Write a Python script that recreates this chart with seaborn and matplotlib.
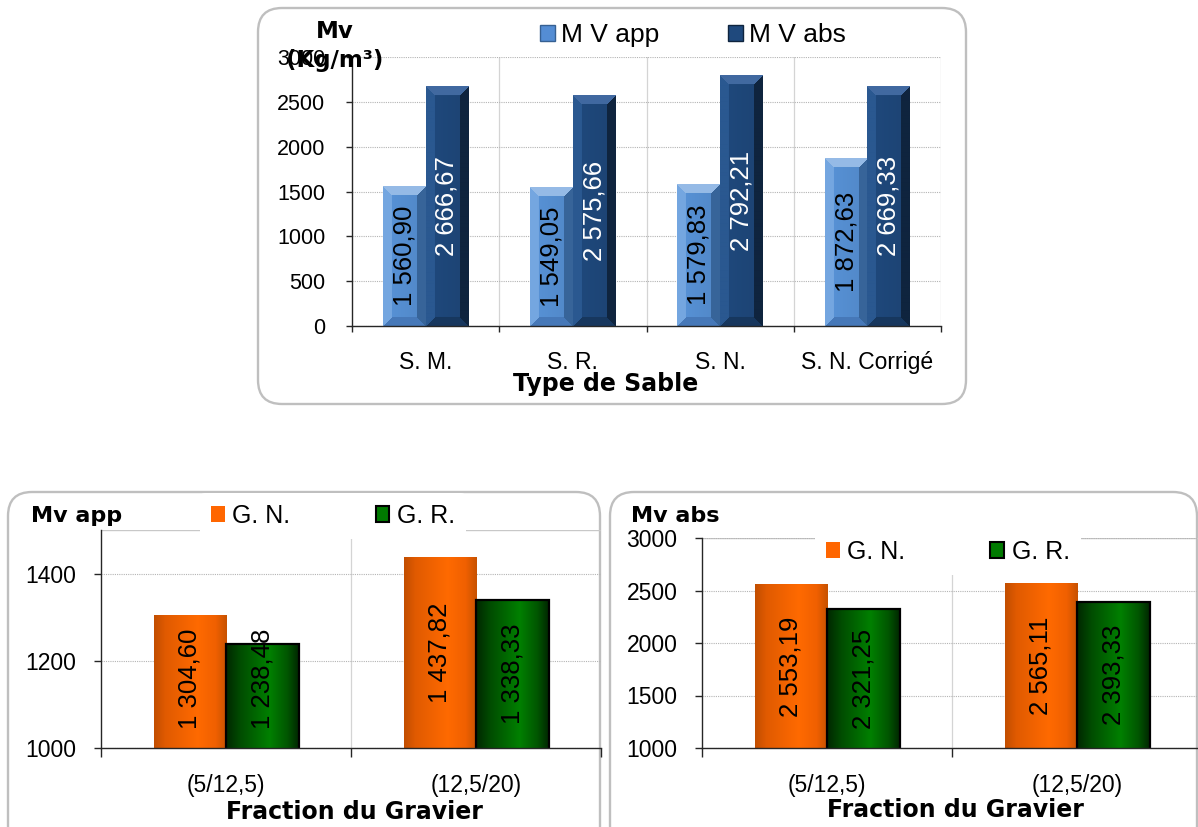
import numpy as np
import pandas as pd
import matplotlib
matplotlib.use("Agg")
import matplotlib.pyplot as plt
import seaborn as sns
from matplotlib.patches import FancyBboxPatch, Patch
from matplotlib.transforms import IdentityTransform
from matplotlib.colors import to_rgb

# ---- Sand: unit mass (kg/m3) ----
sable_types = ["S. M.", "S. R.", "S. N.", "S. N. Corrigé"]
sable_series = ["M V app", "M V abs"]
mv_app_sable = [1560.90, 1549.05, 1579.83, 1872.63]
mv_abs_sable = [2666.67, 2575.66, 2792.21, 2669.33]

# ---- Gravel: unit mass per fraction ----
fractions = ["(5/12,5)", "(12,5/20)"]
gravier_series = ["G. N.", "G. R."]
mv_app_gn = [1304.60, 1437.82]
mv_app_gr = [1238.48, 1338.33]
mv_abs_gn = [2553.19, 2565.11]
mv_abs_gr = [2321.25, 2393.33]

W, H = 1198, 827
sns.set_theme(style="white")
plt.rcParams["font.family"] = ["Liberation Sans", "DejaVu Sans"]
plt.rcParams["text.color"] = "black"
plt.rcParams["axes.labelcolor"] = "black"
plt.rcParams["xtick.color"] = "black"
plt.rcParams["ytick.color"] = "black"
BOLD = dict(family="DejaVu Sans", fontweight="bold", color="black")

fig = plt.figure(figsize=(W / 100, H / 100), dpi=100)
fig.patch.set_facecolor("white")
value_labels = []


def rect(left, top, right, bottom):
    return [left / W, 1 - bottom / H, (right - left) / W, (bottom - top) / H]


def fpos(x, y):
    return x / W, 1 - y / H


def panel(x0, y0, x1, y1):
    box = FancyBboxPatch((x0, H - y1), x1 - x0, y1 - y0,
                         boxstyle="round,pad=0,rounding_size=24",
                         transform=IdentityTransform(), fill=False,
                         ec="#bfbfbf", lw=1.7, zorder=0)
    fig.add_artist(box)


def fr_fmt(v):
    return f"{v:,.2f}".replace(",", " ").replace(".", ",")


def gradient_bar(ax, bar, stops, colors, edge=None):
    x0, w = bar.get_x(), bar.get_width()
    y0, h = bar.get_y(), bar.get_height()
    t = np.linspace(0, 1, 80)
    rgb = np.array([to_rgb(c) for c in colors])
    img = np.stack([np.interp(t, stops, rgb[:, k]) for k in range(3)], axis=-1)[None]
    ax.imshow(img, extent=(x0, x0 + w, y0, y0 + h), aspect="auto",
              interpolation="bilinear", zorder=1.6)
    bar.set_facecolor("none")
    bar.set_zorder(1.7)
    if edge:
        bar.set_edgecolor(edge)
        bar.set_linewidth(1.6)
    else:
        bar.set_edgecolor("none")


def bevel_bar(ax, bar, base, top, left, right, bottom):
    x0, w = bar.get_x(), bar.get_width()
    y0, h = bar.get_y(), bar.get_height()
    (px0, py0), (px1, py1) = ax.transData.transform([[x0, y0], [x0 + w, y0 + h]])
    wp = max(int(round(abs(px1 - px0))), 2)
    hp = max(int(round(abs(py1 - py0))), 2)
    b = 0.2 * wp
    c = np.broadcast_to(np.arange(wp)[None, :] + 0.5, (hp, wp))
    r = np.broadcast_to(np.arange(hp)[:, None] + 0.5, (hp, wp))
    dist = np.stack([r, c, wp - c, hp - r])
    face = np.argmin(dist, axis=0)
    near = dist.min(axis=0) < b
    img = np.empty((hp, wp, 3))
    shade = 1.0 - 0.08 * (c / wp)
    img[:] = np.array(to_rgb(base))[None, None, :] * shade[..., None]
    for k, col in enumerate([top, left, right, bottom]):
        m = near & (face == k)
        img[m] = to_rgb(col)
    ax.imshow(img, extent=(x0, x0 + w, y0, y0 + h), aspect="auto",
              interpolation="bilinear", zorder=1.6)
    bar.set_facecolor("none")
    bar.set_edgecolor("none")


def label_bars(ax, colors, size=18.5):
    lo = ax.get_ylim()[0]
    for container, col in zip(ax.containers, colors):
        for bar in container:
            v = bar.get_height()
            xc = bar.get_x() + bar.get_width() / 2
            t = ax.text(xc, (max(bar.get_y(), lo) + v) / 2, fr_fmt(v), rotation=90,
                        ha="center", va="center", rotation_mode="anchor",
                        fontsize=size, color=col, zorder=4)
            value_labels.append((ax, t))


def style_axes(ax, n, xlim, ylim, yticks, ytick_size, xtick_size, xpad, ypad, xtl, ytl):
    ax.set_xlim(*xlim)
    ax.set_ylim(*ylim)
    ax.set_yticks(yticks)
    ax.set_xticks(range(n))
    ax.set_xticks(np.arange(-0.5, n), minor=True)
    ax.set_xlabel("")
    ax.set_ylabel("")
    ax.set_axisbelow(True)
    ax.grid(axis="y", color="#b4b4b4", linestyle=(0, (1, 1)), lw=0.8)
    ax.grid(axis="x", visible=False)
    for s in ["top", "right"]:
        ax.spines[s].set_visible(False)
    for s in ["left", "bottom"]:
        ax.spines[s].set_color("#262626")
        ax.spines[s].set_linewidth(1.0)
    ax.tick_params(axis="x", which="major", length=0, pad=xpad, labelsize=xtick_size,
                   labelcolor="black")
    ax.tick_params(axis="x", which="minor", length=xtl, width=1.0, color="#262626",
                   direction="out", bottom=True)
    ax.tick_params(axis="y", which="major", length=ytl, width=1.0, color="#262626",
                   direction="out", left=True, pad=ypad, labelsize=ytick_size,
                   labelcolor="black")
    ax.set_facecolor("none")


# ---------------- panel frames ----------------
panel(258, 8, 966, 404)
panel(8, 492, 600, 850)
panel(610, 492, 1197, 850)

# ---------------- sand chart ----------------
df_sable = pd.DataFrame({
    "Type": sable_types * 2,
    "Mv": mv_app_sable + mv_abs_sable,
    "Serie": [s for s in sable_series for _ in sable_types],
})
ax1 = fig.add_axes(rect(352, 57, 941, 326))
sns.barplot(data=df_sable, x="Type", y="Mv", hue="Serie", order=sable_types,
            hue_order=sable_series, palette=["#548dd4", "#1f497d"], width=0.58,
            errorbar=None, legend=False, ax=ax1)
style_axes(ax1, 4, (-0.5, 3.5), (0, 3000), np.arange(0, 3001, 500), 15.5, 16.5,
           18, 15, 4.3, 4.3)
for xb in np.arange(0.5, 4, 1.0):
    ax1.axvline(xb, color="#d4d4d4", lw=0.9, zorder=0.5)
bevels = [("#5893d8", "#95bbe6", "#74a6e0", "#37649a", "#4679b8"),
          ("#1f497d", "#4169a0", "#2a5890", "#0f243e", "#17375e")]
for container, bv in zip(ax1.containers, bevels):
    for bar in container:
        bevel_bar(ax1, bar, *bv)
ax1.set_xlim(-0.5, 3.5)
ax1.set_ylim(0, 3000)
label_bars(ax1, ["black", "white"])

fig.text(*fpos(335, 31), "Mv", ha="center", va="center", fontsize=16.5, **BOLD)
fig.text(*fpos(335, 61), "(Kg/m³)", ha="center", va="center", fontsize=16.5, **BOLD)
fig.text(*fpos(606, 384), "Type de Sable", ha="center", va="center", fontsize=17, **BOLD)
fig.legend([Patch(facecolor="#548dd4", edgecolor="#366092"),
            Patch(facecolor="#1f497d", edgecolor="#0f243e")], sable_series,
           loc="center", bbox_to_anchor=fpos(693, 35), ncol=2, fontsize=19,
           frameon=True, facecolor="white", edgecolor="none", framealpha=1,
           handlelength=0.55, handleheight=0.55, handletextpad=0.25,
           columnspacing=2.6, borderpad=0.25)

# ---------------- gravel charts ----------------
orange_stops = [0, 0.15, 0.6, 0.85, 1]
orange_cols = ["#c24e00", "#e05a00", "#ff6a00", "#f06000", "#c85200"]
green_stops = [0, 0.2, 0.6, 0.85, 1]
green_cols = ["#002800", "#004d00", "#008000", "#005500", "#002800"]
pal = ["#ff6600", "#007a00"]


def gravel_chart(box, gn, gr, ylim, yticks, title, title_xy, leg_xy, xlab_xy):
    df = pd.DataFrame({
        "Fraction": fractions * 2,
        "Mv": gn + gr,
        "Serie": [s for s in gravier_series for _ in fractions],
    })
    ax = fig.add_axes(rect(*box))
    sns.barplot(data=df, x="Fraction", y="Mv", hue="Serie", order=fractions,
                hue_order=gravier_series, palette=pal, width=0.58,
                errorbar=None, legend=False, ax=ax)
    style_axes(ax, 2, (-0.5, 1.5), ylim, yticks, 16.5, 16.5, 19, 13, 6.5, 4.8)
    ax.axhline(ylim[1], color="#c8c8c8", lw=1.0, zorder=0.5)
    ax.axvline(0.5, color="#d4d4d4", lw=0.9, zorder=0.5)
    for bar in ax.containers[0]:
        gradient_bar(ax, bar, orange_stops, orange_cols)
    for bar in ax.containers[1]:
        gradient_bar(ax, bar, green_stops, green_cols, edge="black")
    ax.set_xlim(-0.5, 1.5)
    ax.set_ylim(*ylim)
    label_bars(ax, ["black", "black"])
    fig.text(*fpos(*title_xy), title, ha="center", va="center", fontsize=16, **BOLD)
    fig.text(*fpos(*xlab_xy), "Fraction du Gravier", ha="center", va="center",
             fontsize=17, **BOLD)
    fig.legend([Patch(facecolor="#ff6600", edgecolor="none"),
                Patch(facecolor="#007a00", edgecolor="black", lw=1.5)],
               gravier_series, loc="center", bbox_to_anchor=fpos(*leg_xy), ncol=2,
               fontsize=18, frameon=True, facecolor="white", edgecolor="none",
               framealpha=1, handlelength=0.55, handleheight=0.6,
               handletextpad=0.3, columnspacing=3.4, borderpad=0.45)
    return ax


gravel_chart((101, 530, 601, 748), mv_app_gn, mv_app_gr, (1000, 1500),
             [1000, 1200, 1400], "Mv app", (77, 516), (333, 516), (354, 812))
gravel_chart((702, 538, 1202, 748), mv_abs_gn, mv_abs_gr, (1000, 3000),
             np.arange(1000, 3001, 500), "Mv abs", (675, 516), (948, 552), (955, 810))

# keep value labels clear of the category axis: lift any that run too low
fig.canvas.draw()
for ax, t in value_labels:
    bb = t.get_window_extent()
    floor = ax.transAxes.transform((0, 0))[1] + 19
    if bb.y0 < floor:
        xd, yd = t.get_position()
        px, py = ax.transData.transform((xd, yd))
        t.set_position(ax.transData.inverted().transform((px, py + floor - bb.y0)))

fig.savefig("out.png", dpi=100)
